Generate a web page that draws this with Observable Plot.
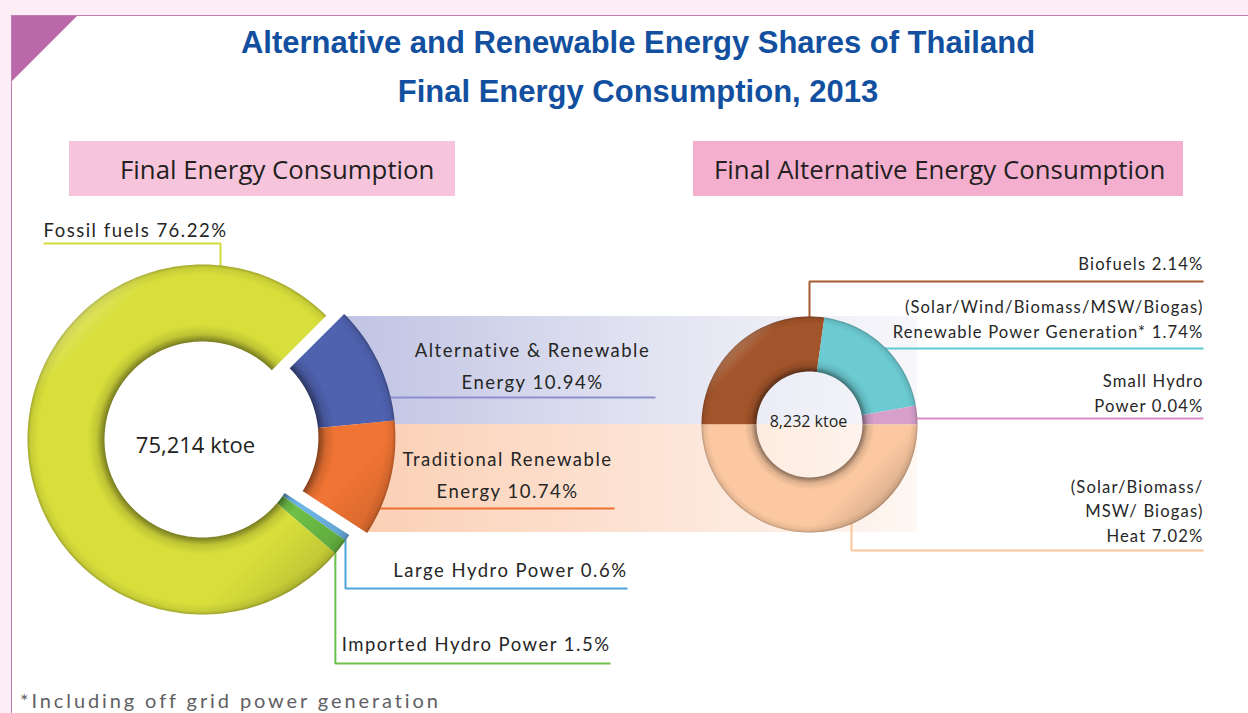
<!DOCTYPE html>
<html>
<head>
<meta charset="utf-8">
<title>Alternative and Renewable Energy Shares of Thailand</title>
<script src="https://cdn.jsdelivr.net/npm/d3@7"></script>
<script src="https://cdn.jsdelivr.net/npm/@observablehq/plot@0.6"></script>
<style>
  html, body { margin: 0; padding: 0; background: #fdeef5; }
  #page { position: relative; width: 1248px; height: 713px; overflow: hidden; background: #fdeef5; }
  #panel { position: absolute; left: 11px; top: 15px; width: 1237px; height: 698px; background: #fff;
           border-left: 1.5px solid #c27fb6; border-top: 1.5px solid #c27fb6; box-sizing: border-box; }
  #corner { position: absolute; left: 12px; top: 16px; width: 65px; height: 65px; background: #b968a8;
            clip-path: polygon(0 0, 100% 0, 0 100%); }
  #chart { position: absolute; left: 0; top: 0; }
  .title { position: absolute; left: 28px; width: 1220px; text-align: center; white-space: nowrap;
           font-family: "Liberation Sans", Arial, sans-serif; font-weight: bold;
           font-size: 31px; line-height: 1; color: #12509f; }
  .head { position: absolute; top: 141px; height: 55px; box-sizing: border-box; display: flex; align-items: center;
          font-family: "Open Sans", sans-serif; font-size: 25.8px; color: #231f20; white-space: nowrap; }
  #note { position: absolute; left: 20px; top: 690px; font-family: Lato, sans-serif; font-size: 20px; line-height: 1;
          letter-spacing: 2.9px; color: #5f6063; white-space: nowrap; }
</style>
</head>
<body>
<svg width="0" height="0" style="position:absolute"><defs id="defs"></defs></svg>
<div id="page">
  <div id="panel"></div>
  <div id="corner"></div>
  <div id="chart"></div>
  <div class="title" id="t1" style="top:27px"></div>
  <div class="title" id="t2" style="top:76px"></div>
  <div class="head" id="h1" style="left:69px;width:386px;background:#f6c5dc;padding-left:51px"></div>
  <div class="head" id="h2" style="left:693px;width:490px;background:#f4afcf;padding-left:21px"></div>
  <div id="note"></div>
</div>
<script>
// ---------------- data ----------------
const titleLines = ["Alternative and Renewable Energy Shares of Thailand", "Final Energy Consumption, 2013"];
const panelTitles = ["Final Energy Consumption", "Final Alternative Energy Consumption"];

// Final energy consumption (left ring), % of total
const mainCategories = ["Alternative & Renewable Energy", "Traditional Renewable Energy", "Large Hydro Power", "Imported Hydro Power", "Fossil fuels"];
const mainLabels = ["Alternative & Renewable\nEnergy", "Traditional Renewable\nEnergy", "Large Hydro Power", "Imported Hydro Power", "Fossil fuels"];
const mainShares = [10.94, 10.74, 0.6, 1.5, 76.22];

// Final alternative energy consumption (right ring), % of total final energy
const altCategories = ["Biofuels", "Renewable Power Generation", "Small Hydro Power", "Heat"];
const altLabels = ["Biofuels", "(Solar/Wind/Biomass/MSW/Biogas)\nRenewable Power Generation*", "Small Hydro\nPower", "(Solar/Biomass/\nMSW/ Biogas)\nHeat"];
const altShares = [2.14, 1.74, 0.04, 7.02];
// ring fractions (%) as they are drawn in the source graphic
const altDrawnShares = [27.2, 20.0, 2.8, 50.0];

const totalsKtoe = [75214, 8232];
const footnote = "*Including off grid power generation";

// ---------------- styles / layout ----------------
const mainColors = ["#4f62b0", "#f07433", "#6db5e7", "#6cbe45", "#d8df3b"];
const mainLineColors = ["#8c90cd", "#f0702e", "#4ea6dd", "#6dc04a", "#d3db3a"];
const altColors = ["#a2542a", "#6ccbd2", "#d6a0cb", "#fbc8a1"];
const altLineColors = ["#a65b2d", "#5fcad3", "#d98ec7", "#fbc59c"];

const W = 1248, H = 713;
const L = {cx: 202, cy: 439, r0: 98, r1: 175, start: 45, explode: 18};
const R = {cx: 809, cy: 424, r0: 53, r1: 108, start: 270};

document.getElementById("t1").textContent = titleLines[0];
document.getElementById("t2").textContent = titleLines[1];
document.getElementById("h1").textContent = panelTitles[0];
document.getElementById("h2").textContent = panelTitles[1];
document.getElementById("note").textContent = footnote;

const d2r = Math.PI / 180;
const pt = (cx, cy, r, a) => [cx + r * Math.sin(a * d2r), cy - r * Math.cos(a * d2r)];

function ringAngles(values, start) {
  const total = d3.sum(values);
  let a = start;
  return values.map(v => { const a0 = a; a += 360 * v / total; return [a0, a]; });
}

// left ring geometry (alternative + traditional slices pulled out)
const mainAngles = ringAngles(mainShares, L.start);
const bis = (mainAngles[0][0] + mainAngles[1][1]) / 2;
const ecx = L.cx + L.explode * Math.sin(bis * d2r), ecy = L.cy - L.explode * Math.cos(bis * d2r);
const leftSlices = mainShares.map((v, i) => ({
  id: "m" + i, color: mainColors[i], r0: L.r0, r1: L.r1,
  cx: i < 2 ? ecx : L.cx, cy: i < 2 ? ecy : L.cy,
  a0: mainAngles[i][0], a1: mainAngles[i][1]
}));
const altAngles = ringAngles(altDrawnShares, R.start);
const rightSlices = altDrawnShares.map((v, i) => ({
  id: "a" + i, color: altColors[i], r0: R.r0, r1: R.r1, cx: R.cx, cy: R.cy,
  a0: altAngles[i][0], a1: altAngles[i][1]
}));
const slices = [...rightSlices, ...leftSlices];

function ringPolygon(s) {
  const n = Math.max(2, Math.ceil(s.a1 - s.a0));
  const as = d3.range(n + 1).map(k => s.a0 + (s.a1 - s.a0) * k / n);
  const pts = as.map(a => pt(s.cx, s.cy, s.r1, a)).concat(as.slice().reverse().map(a => pt(s.cx, s.cy, s.r0, a)));
  return pts.map(([x, y]) => ({x, y}));
}

// gradients
const defs = d3.select("#defs");
const shade = (c, k) => k < 0 ? d3.interpolateRgb(c, "#000")(-k) : d3.interpolateRgb(c, "#fff")(k);
function addStops(g, stops) {
  stops.forEach(([o, c, op]) => g.append("stop").attr("offset", Math.max(0, Math.min(1, o)))
    .attr("stop-color", c).attr("stop-opacity", op ?? 1));
}
slices.forEach(s => {
  const g = defs.append("radialGradient").attr("id", "tube-" + s.id).attr("gradientUnits", "userSpaceOnUse")
    .attr("cx", s.cx).attr("cy", s.cy).attr("r", s.r1).attr("fx", s.cx).attr("fy", s.cy);
  const t = s.r1 - s.r0;
  addStops(g, [
    [s.r0 / s.r1, shade(s.color, -0.45)],
    [(s.r0 + t * 0.1) / s.r1, shade(s.color, -0.12)],
    [(s.r0 + t * 0.22) / s.r1, s.color],
    [(s.r1 - t * 0.14) / s.r1, s.color],
    [(s.r1 - t * 0.04) / s.r1, shade(s.color, -0.08)],
    [1, shade(s.color, -0.25)]
  ]);
  const lg = defs.append("linearGradient").attr("id", "light-" + s.id).attr("gradientUnits", "userSpaceOnUse")
    .attr("x1", s.cx - s.r1 * 0.75).attr("y1", s.cy - s.r1 * 0.75)
    .attr("x2", s.cx + s.r1 * 0.75).attr("y2", s.cy + s.r1 * 0.75);
  addStops(lg, [[0, "#fff", 0.28], [0.1, "#fff", 0], [0.82, "#000", 0], [1, "#000", 0.14]]);
});
const bandAlt = defs.append("linearGradient").attr("id", "bandAlt");
addStops(bandAlt, [[0, "#c0c3e3"], [0.55, "#e3e4f2"], [1, "#f7f7fb"]]);
const bandTrad = defs.append("linearGradient").attr("id", "bandTrad");
addStops(bandTrad, [[0, "#fbd0b5"], [0.55, "#fde5d7"], [1, "#fef7f2"]]);

// bands joining the two rings
const altStartX = pt(ecx, ecy, L.r1, mainAngles[0][0])[0];
const tradEndX = pt(ecx, ecy, L.r1, mainAngles[1][1])[0];
const bandRows = [
  {x1: altStartX, x2: R.cx + R.r1, y1: R.cy - R.r1, y2: R.cy, fill: "url(#bandAlt)"},
  {x1: tradEndX, x2: R.cx + R.r1, y1: R.cy, y2: R.cy + R.r1, fill: "url(#bandTrad)"}
];

// leader lines
const edgeX = (cx, cy, r, y) => cx + Math.sqrt(r * r - (y - cy) ** 2);
const edgeY = (cx, cy, r, x, below) => cy + (below ? 1 : -1) * Math.sqrt(r * r - (x - cx) ** 2);
const lhCorner = pt(L.cx, L.cy, L.r1, mainAngles[2][1]);
const ihCorner = pt(L.cx, L.cy, L.r1, mainAngles[3][1]);
const leaders = [
  {color: mainLineColors[0], pts: [[edgeX(ecx, ecy, L.r1, 397) - 4, 397], [655, 397]]},
  {color: mainLineColors[1], pts: [[edgeX(ecx, ecy, L.r1, 508) - 4, 508], [614, 508]]},
  {color: mainLineColors[2], pts: [[lhCorner[0], lhCorner[1] - 3], [lhCorner[0], 588], [627, 588]]},
  {color: mainLineColors[3], pts: [[ihCorner[0], ihCorner[1] - 3], [ihCorner[0], 663], [610, 663]]},
  {color: mainLineColors[4], pts: [[43, 243], [220, 243], [220, edgeY(L.cx, L.cy, L.r1, 220, false) + 2]]},
  {color: altLineColors[0], pts: [[R.cx, R.cy - R.r1 + 3], [R.cx, 281], [1203, 281]]},
  {color: altLineColors[1], pts: [[edgeX(R.cx, R.cy, R.r1, 348) - 6, 348], [1203, 348]]},
  {color: altLineColors[2], pts: [[edgeX(R.cx, R.cy, R.r1, 418) - 2, 418], [1203, 418]]},
  {color: altLineColors[3], pts: [[851, edgeY(R.cx, R.cy, R.r1, 851, true) - 3], [851, 550], [1203, 550]]}
];

// share labels
const mainLabelPos = [
  {x: 532, y: 388, anchor: "middle"}, {x: 507, y: 497, anchor: "middle"},
  {x: 627, y: 576, anchor: "end"}, {x: 610, y: 650, anchor: "end"}, {x: 43, y: 236, anchor: "start"}
];
const altLabelPos = [{x: 1203, y: 269}, {x: 1203, y: 337}, {x: 1203, y: 411}, {x: 1203, y: 541}];
const leftTextRows = mainLabels.map((l, i) => ({text: `${l} ${mainShares[i]}%`, ...mainLabelPos[i]}));
const rightTextRows = altLabels.map((l, i) => ({text: `${l} ${altShares[i]}%`, ...altLabelPos[i]}));
const totalRows = [
  {x: 195, y: 452, text: `${d3.format(",")(totalsKtoe[0])} ktoe`, size: 22},
  {x: 808, y: 426, text: `${d3.format(",")(totalsKtoe[1])} ktoe`, size: 16}
];

const marks = [
  ...bandRows.map(b => Plot.rect([b], {x1: "x1", x2: "x2", y1: "y1", y2: "y2", fill: b.fill})),
  ...leaders.map(ld => Plot.line(ld.pts.map(([x, y]) => ({x, y})),
    {x: "x", y: "y", stroke: ld.color, strokeWidth: 2, strokeLinecap: "butt", strokeLinejoin: "miter"})),
  ...slices.flatMap(s => {
    const poly = ringPolygon(s);
    return [
      Plot.line(poly, {x: "x", y: "y", curve: "linear-closed", fill: `url(#tube-${s.id})`, stroke: "none"}),
      Plot.line(poly, {x: "x", y: "y", curve: "linear-closed", fill: `url(#light-${s.id})`, stroke: "none"})
    ];
  }),
  ...["start", "middle", "end"].map(anchor => Plot.text(leftTextRows.filter(d => d.anchor === anchor), {
    x: "x", y: "y", text: "text", textAnchor: anchor, lineAnchor: "bottom", lineHeight: 1.7,
    fontSize: 18.5, fontFamily: "Lato, sans-serif", fill: "#262626"
  })),
  Plot.text(rightTextRows, {
    x: "x", y: "y", text: "text", textAnchor: "end", lineAnchor: "bottom", lineHeight: 1.45,
    fontSize: 16.6, fontFamily: "Lato, sans-serif", fill: "#262626"
  }),
  ...totalRows.map(t => Plot.text([t], {
    x: "x", y: "y", text: "text", textAnchor: "middle", lineAnchor: "bottom",
    fontSize: t.size, fontFamily: "'Open Sans', sans-serif", fill: "#231f20"
  }))
];

const chart = Plot.plot({
  width: W, height: H, margin: 0,
  x: {domain: [0, W], range: [0, W], axis: null},
  y: {domain: [0, H], range: [0, H], axis: null},
  style: {background: "transparent", overflow: "visible"},
  marks
});
// letter spacing for the rounded share labels
d3.select(chart).selectAll("g").each(function() {
  const fs = this.getAttribute("font-size");
  if ((this.getAttribute("font-family") || "").includes("Lato")) {
    d3.select(this).style("letter-spacing", fs === "18.5" ? "1.5px" : "1.15px");
  }
});
document.getElementById("chart").appendChild(chart);
</script>
</body>
</html>
